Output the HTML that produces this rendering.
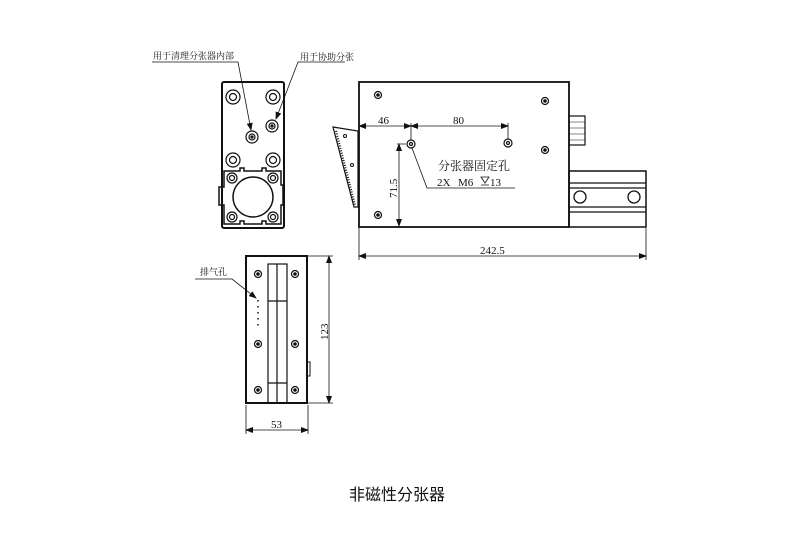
<!DOCTYPE html>
<html><head><meta charset="utf-8"><style>
html,body{margin:0;padding:0;background:#fff;width:800px;height:533px;overflow:hidden}
svg{display:block}
text{font-family:"Liberation Serif","Noto Serif CJK SC",serif;fill:#111}
</style></head><body>
<svg width="800" height="533" viewBox="0 0 800 533" xmlns="http://www.w3.org/2000/svg">
<defs>
<marker id="a" markerWidth="8" markerHeight="6" refX="7" refY="3" orient="auto-start-reverse" markerUnits="userSpaceOnUse"><path d="M0,0 L8,3 L0,6 z" fill="#111"/></marker>
</defs>
<g stroke="#111" fill="none">
<rect x="222" y="82" width="62" height="146" rx="2" stroke-width="2"/>
<g stroke-width="1.2">
<circle cx="233" cy="97" r="7"/><circle cx="233" cy="97" r="3.5"/>
<circle cx="273" cy="97" r="7"/><circle cx="273" cy="97" r="3.5"/>
<circle cx="233" cy="160" r="7"/><circle cx="233" cy="160" r="3.5"/>
<circle cx="273" cy="160" r="7"/><circle cx="273" cy="160" r="3.5"/>
<circle cx="252" cy="137" r="6"/><circle cx="252" cy="137" r="3"/><circle cx="252" cy="137" r="1" fill="#111"/>
<circle cx="272" cy="126" r="6"/><circle cx="272" cy="126" r="3"/><circle cx="272" cy="126" r="1" fill="#111"/>
<path d="M224,171 H240 V168 H244 V171 H262 V168 H266 V171 H281 V185 H283 V205 H281 V224 H266 V221 H262 V224 H244 V221 H240 V224 H224 V205 H219 V187 H224 Z" stroke-width="1.5"/>
<circle cx="253" cy="197" r="20" stroke-width="1.5"/>
<circle cx="232" cy="178" r="5"/><circle cx="232" cy="178" r="2.5"/>
<circle cx="273" cy="178" r="5"/><circle cx="273" cy="178" r="2.5"/>
<circle cx="232" cy="217" r="5"/><circle cx="232" cy="217" r="2.5"/>
<circle cx="273" cy="217" r="5"/><circle cx="273" cy="217" r="2.5"/>
</g>
<g stroke-width="0.8">
<path d="M152,62 H238 L251,130" marker-end="url(#a)"/>
<path d="M345,62 H298 L276,119" marker-end="url(#a)"/>
</g>
<rect x="359" y="82" width="210" height="145" stroke-width="1.8"/>
<path d="M333,127 L358,131 L358,207 L354,207 Z" stroke-width="1.2"/>
<path d="M336,131 L355,205" stroke-width="2" stroke-dasharray="1 1.5"/>
<circle cx="345" cy="136" r="1.5"/><circle cx="352" cy="165" r="1.5"/>
<rect x="569" y="116" width="16" height="29" stroke-width="1.2"/>
<path d="M569,122 H585 M569,128 H585 M569,134 H585 M569,140 H585" stroke-width="0.6"/>
<rect x="569" y="171" width="77" height="56" stroke-width="1.5"/>
<path d="M569,183 H646 M569,188 H646 M569,207 H646 M569,212 H646" stroke-width="1.2"/>
<circle cx="580" cy="197" r="6" stroke-width="1.3"/><circle cx="634" cy="197" r="6" stroke-width="1.3"/>
<g stroke-width="1.2">
<circle cx="378" cy="95" r="3.5"/><circle cx="378" cy="95" r="1.2" fill="#111"/>
<circle cx="545" cy="101" r="3.5"/><circle cx="545" cy="101" r="1.2" fill="#111"/>
<circle cx="545" cy="150" r="3.5"/><circle cx="545" cy="150" r="1.2" fill="#111"/>
<circle cx="378" cy="215" r="3.5"/><circle cx="378" cy="215" r="1.2" fill="#111"/>
<circle cx="411" cy="144" r="4"/><circle cx="411" cy="144" r="1.5"/>
<circle cx="508" cy="143" r="4"/><circle cx="508" cy="143" r="1.5"/>
</g>
<g stroke-width="0.8">
<path d="M359,126 H411" marker-start="url(#a)" marker-end="url(#a)"/>
<path d="M411,126 H508" marker-start="url(#a)" marker-end="url(#a)"/>
<path d="M411,123 V140 M508,123 V139 M406,144 H397"/>
<path d="M399,144 V226" marker-start="url(#a)" marker-end="url(#a)"/>
<path d="M359,228 V260 M646,228 V260"/>
<path d="M359,256 H646" marker-start="url(#a)" marker-end="url(#a)"/>
<path d="M412,148 L427,188 H515"/>
<path d="M481,177 H489 L485,183 Z M481,185 H489"/>
</g>
<rect x="246" y="256" width="61" height="147" stroke-width="2"/>
<rect x="307" y="362" width="3" height="14" stroke-width="1"/>
<g stroke-width="1.2">
<rect x="268" y="264" width="19" height="139"/>
<path d="M277,264 V403 M268,301 H287 M268,383 H287"/>
<circle cx="258" cy="274" r="3.5"/><circle cx="258" cy="274" r="1.2" fill="#111"/>
<circle cx="295" cy="274" r="3.5"/><circle cx="295" cy="274" r="1.2" fill="#111"/>
<circle cx="258" cy="344" r="3.5"/><circle cx="258" cy="344" r="1.2" fill="#111"/>
<circle cx="295" cy="344" r="3.5"/><circle cx="295" cy="344" r="1.2" fill="#111"/>
<circle cx="258" cy="390" r="3.5"/><circle cx="258" cy="390" r="1.2" fill="#111"/>
<circle cx="295" cy="390" r="3.5"/><circle cx="295" cy="390" r="1.2" fill="#111"/>
</g>
<path d="M258,300 V330" stroke-width="1.5" stroke-dasharray="1.5 4.5"/>
<g stroke-width="0.8">
<path d="M195,279 H232 L256,298" marker-end="url(#a)"/>
<path d="M308,256 H333 M308,403 H333"/>
<path d="M329,256 V403" marker-start="url(#a)" marker-end="url(#a)"/>
<path d="M246,405 V434 M308,405 V434"/>
<path d="M246,430 H308" marker-start="url(#a)" marker-end="url(#a)"/>
</g>
</g>
<g font-size="9">
<text x="153" y="59">用于清理分张器内部</text>
<text x="300" y="60">用于协助分张</text>
<text x="200" y="275">排气孔</text>
</g>
<g font-size="11">
<text x="378" y="124">46</text>
<text x="453" y="124">80</text>
<text x="438" y="170" font-size="12">分张器固定孔</text>
<text x="437" y="186">2X</text>
<text x="458" y="186">M6</text>
<text x="490" y="186">13</text>
<text x="480" y="254">242.5</text>
<text x="271" y="428">53</text>
<text transform="translate(397,198) rotate(-90)">71.5</text>
<text transform="translate(328,340) rotate(-90)">123</text>
</g>
<text x="397" y="500" font-size="16" text-anchor="middle" style="font-family:'Liberation Sans','Noto Sans CJK SC',sans-serif">非磁性分张器</text>
</svg>
</body></html>
